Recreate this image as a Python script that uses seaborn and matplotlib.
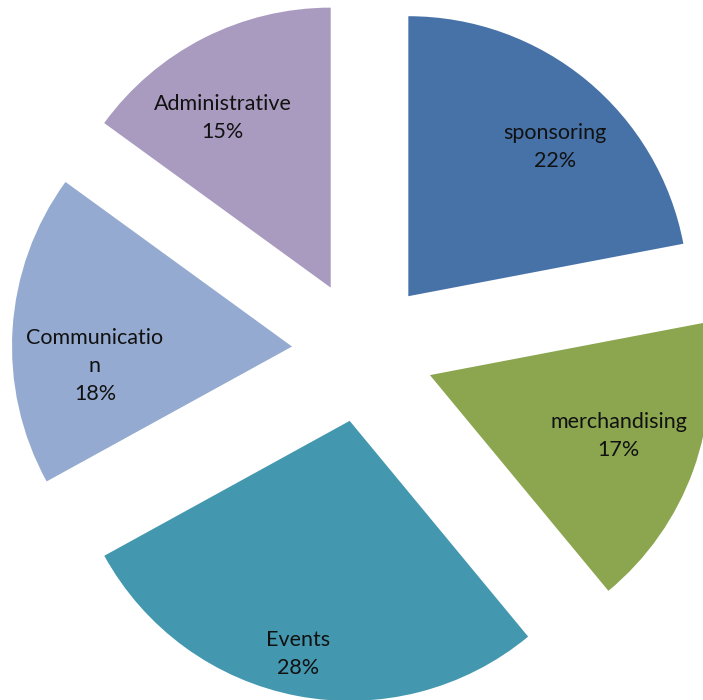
import numpy as np
import matplotlib
matplotlib.use("Agg")
import matplotlib.pyplot as plt
import seaborn as sns

# Budget split
categories = ["sponsoring", "merchandising", "Events", "Communicatio\nn", "Administrative"]
shares = [22, 17, 28, 18, 15]
colors = ["#4672A8", "#8BA64F", "#4398AF", "#95AAD0", "#A99BBF"]

# label offset from each exploded wedge apex, in radius units
label_offsets = [(0.525, 0.532), (0.675, -0.218), (-0.186, -0.832),
                 (-0.704, -0.068), (-0.386, 0.607)]

sns.set_theme(style="white")
plt.rcParams["font.family"] = ["Lato", "DejaVu Sans"]

fig = plt.figure(figsize=(7.03, 7.0), dpi=100)
ax = fig.add_axes([0, 0, 1, 1])

wedges, _ = ax.pie(
    shares,
    colors=colors,
    startangle=90,
    counterclock=False,
    explode=[0.254] * len(shares),
    radius=1.0,
    wedgeprops=dict(linewidth=0),
)

for w, name, val, (dx, dy) in zip(wedges, categories, shares, label_offsets):
    cx, cy = w.center
    ax.text(cx + dx, cy + dy, f"{name}\n{val}%",
            ha="center", va="center", fontsize=15.5, color="#111111",
            linespacing=1.5)

# the reference is cropped tightly around the exploded pie
ax.set_xlim(-363 / 280, (703 - 363) / 280)
ax.set_ylim(-(700 - 351) / 280, 351 / 280)
ax.set_aspect("auto")
ax.axis("off")

fig.savefig("out.png", dpi=100)
